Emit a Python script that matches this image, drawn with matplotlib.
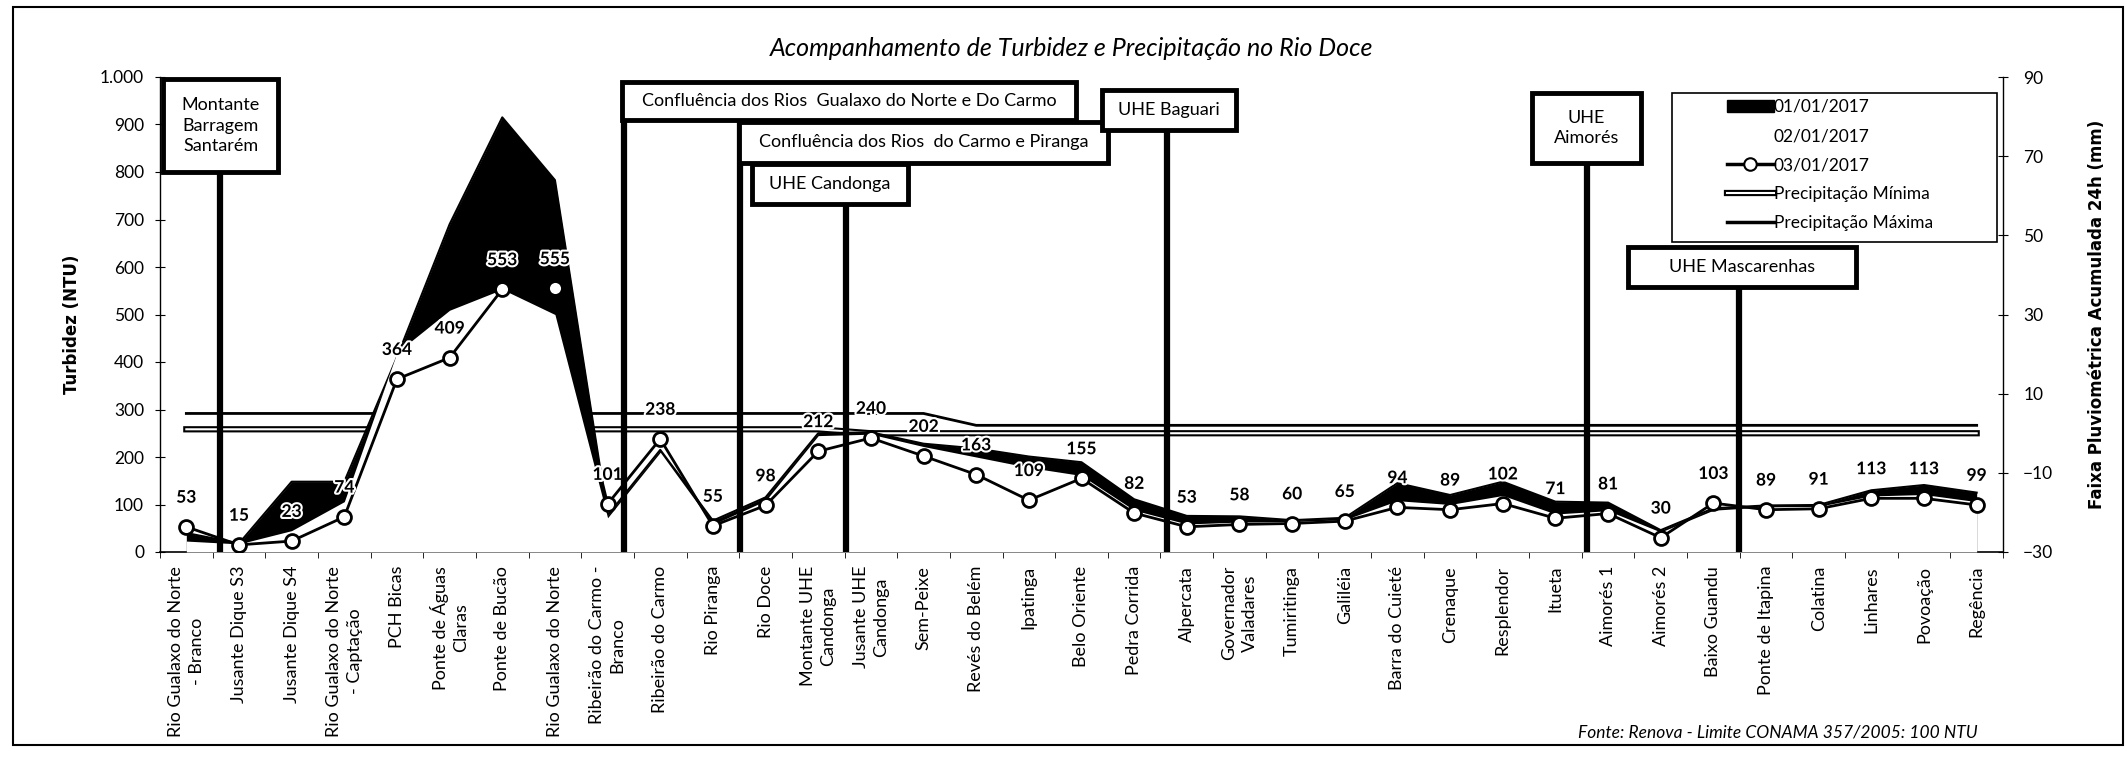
import matplotlib
matplotlib.use("Agg")
import matplotlib.pyplot as plt
import matplotlib.patheffects as pe
from matplotlib.patches import Rectangle, Patch
from matplotlib.lines import Line2D
from matplotlib.ticker import FuncFormatter
from matplotlib import transforms
import numpy as np

# pontos de monitoramento (ordem de montante para jusante)
locais = [
    "Rio Gualaxo do Norte\n- Branco", "Jusante Dique S3", "Jusante Dique S4",
    "Rio Gualaxo do Norte\n- Captação", "PCH Bicas", "Ponte de Águas\nClaras",
    "Ponte de Bucão", "Rio Gualaxo do Norte", "Ribeirão do Carmo -\nBranco",
    "Ribeirão do Carmo", "Rio Piranga", "Rio Doce", "Montante UHE\nCandonga",
    "Jusante UHE\nCandonga", "Sem-Peixe", "Revés do Belém", "Ipatinga",
    "Belo Oriente", "Pedra Corrida", "Alpercata", "Governador\nValadares",
    "Tumiritinga", "Galiléia", "Barra do Cuieté", "Crenaque", "Resplendor",
    "Itueta", "Aimorés 1", "Aimorés 2", "Baixo Guandu", "Ponte de Itapina",
    "Colatina", "Linhares", "Povoação", "Regência",
]

# turbidez (NTU)
turb_0101 = [40, 18, 148, 148, 410, 690, 915, 783, 77, 215, 66, 115, 250, 252, 228,
             218, 201, 189, 111, 76, 75, 67, 72, 145, 120, 148, 106, 104, 46, 92,
             98, 99, 130, 141, 125]
turb_0201 = [23, 17, 45, 106, 420, 509, 553, 500, 72, 210, 58, 108, 245, 248, 222,
             200, 178, 161, 88, 59, 63, 64, 68, 108, 100, 119, 80, 87, 42, 88,
             95, 96, 118, 121, 106]
turb_0301 = [53, 15, 23, 74, 364, 409, 553, 555, 101, 238, 55, 98, 212, 240, 202,
             163, 109, 155, 82, 53, 58, 60, 65, 94, 89, 102, 71, 81, 30, 103,
             89, 91, 113, 113, 99]

# faixa pluviometrica acumulada 24h (mm)
prec_min = [1, 1, 1, 1, 1, 1, 1, 1, 1, 1, 1, 1, 1, 0, 0, 0, 0, 0, 0, 0, 0, 0, 0,
            0, 0, 0, 0, 0, 0, 0, 0, 0, 0, 0, 0]
prec_max = [5, 5, 5, 5, 5, 5, 5, 5, 5, 5, 5, 5, 5, 5, 5, 2, 2, 2, 2, 2, 2, 2, 2,
            2, 2, 2, 2, 2, 2, 2, 2, 2, 2, 2, 2]

# marcos ao longo do rio (posicao em unidades de categoria)
marcos = ["Montante\nBarragem\nSantarém",
          "Confluência dos Rios  Gualaxo do Norte e Do Carmo",
          "Confluência dos Rios  do Carmo e Piranga",
          "UHE Candonga", "UHE Baguari", "UHE\nAimorés", "UHE Mascarenhas"]
marcos_pos = [0.64, 8.31, 10.51, 12.53, 18.62, 26.6, 29.48]
# caixas (esq, topo, dir, base) em pixels da figura
marcos_caixa = [(163, 79, 278, 172), (622, 82, 1076, 120), (739, 122, 1108, 163),
                (752, 164, 908, 204), (1102, 90, 1236, 130), (1532, 93, 1641, 163),
                (1628, 247, 1856, 287)]

W, H = 2127, 757
plt.rcParams['font.family'] = ['Lato', 'DejaVu Sans']


def fx(px):
    return px / W


def fy(py):
    return 1 - py / H


fig = plt.figure(figsize=(W / 100, H / 100), dpi=100)
ax = fig.add_axes([fx(160), fy(552), fx(2003) - fx(160), fy(77) - fy(552)])
ax2 = ax.twinx()
ax.set_zorder(ax2.get_zorder() + 1)
ax.patch.set_visible(False)

x = np.arange(len(locais))

# precipitacao no eixo secundario (fica por baixo das areas)
hollow = [pe.Stroke(linewidth=4.5, foreground='black'), pe.Normal()]
ax2.plot(x, prec_max, color='black', lw=2)
ax2.plot(x, prec_min, color='white', lw=1.5, path_effects=hollow)
ax2.set_ylim(-30, 90)
ax2.set_yticks(np.arange(-30, 91, 20))

# areas 01/01 (preta) e 02/01 (branca), linha 03/01
ax.fill_between(x, turb_0101, color='black', lw=0, zorder=2)
ax.plot(x, turb_0101, color='black', lw=1.5, zorder=2)
ax.fill_between(x, turb_0201, color='white', lw=0, zorder=3)
ax.plot(x, turb_0301, color='black', lw=2, marker='o', ms=10, mfc='white',
        mec='black', mew=2, zorder=5)

for xi, v in zip(x, turb_0301):
    ax.annotate(str(v), (xi, v), xytext=(0, 21), textcoords='offset points',
                ha='center', va='center', fontsize=12.5, fontweight='bold', zorder=6,
                path_effects=[pe.withStroke(linewidth=3, foreground='white')])

ax.set_xlim(-0.5, len(locais) - 0.5)
ax.set_ylim(0, 1000)
ax.set_yticks(np.arange(0, 1001, 100))
ax.yaxis.set_major_formatter(FuncFormatter(lambda v, p: f"{int(v):,}".replace(",", ".")))
ax.set_xticks(x)
ax.set_xticklabels(locais, rotation=90, ha='center', va='top', linespacing=1.35,
                   multialignment='center')
ax.set_xticks(np.arange(-0.5, len(locais), 1), minor=True)
ax.tick_params(axis='x', which='major', length=0, pad=10, labelsize=13)
ax.tick_params(axis='x', which='minor', length=4, direction='out')
ax.tick_params(axis='y', direction='inout', length=7, pad=8, labelsize=12.5)
ax2.tick_params(axis='y', direction='inout', length=7, pad=11, labelsize=12.5)

for s in ['top', 'right']:
    ax.spines[s].set_visible(False)
for s in ['top', 'left', 'bottom']:
    ax2.spines[s].set_visible(False)
ax.spines['left'].set_linewidth(1)
ax.spines['bottom'].set_linewidth(1.2)
ax2.spines['right'].set_linewidth(1)

ax.set_ylabel("Turbidez (NTU)", fontfamily='DejaVu Sans', fontweight='bold', fontsize=12)
ax.yaxis.set_label_coords(-0.043, 0.48)
ax2.set_ylabel("Faixa Pluviométrica Acumulada 24h (mm)", fontfamily='DejaVu Sans',
               fontweight='bold', fontsize=12, rotation=90)
ax2.yaxis.set_label_coords(1.046, 0.5)

# linhas e caixas dos marcos
trans = transforms.blended_transform_factory(ax.transData, fig.transFigure)
for nome, pos, (l, t, r, b) in zip(marcos, marcos_pos, marcos_caixa):
    ax.plot([pos, pos], [fy(t), fy(552)], transform=trans, color='black', lw=4.5,
            solid_capstyle='butt', zorder=8, clip_on=False)
    fig.add_artist(Rectangle((fx(l), fy(b)), fx(r) - fx(l), fy(t) - fy(b),
                             facecolor='white', edgecolor='black', lw=3.5,
                             transform=fig.transFigure, zorder=10))
    fig.text(fx((l + r) / 2), fy((t + b) / 2), nome, ha='center', va='center',
             fontsize=13, linespacing=1.35, zorder=11)

# legenda
fig.add_artist(Rectangle((fx(1672), fy(242)), fx(1997) - fx(1672), fy(93) - fy(242),
                         facecolor='white', edgecolor='black', lw=1.2,
                         transform=fig.transFigure, zorder=10))
handles = [Patch(facecolor='black', edgecolor='black'),
           Patch(facecolor='white', edgecolor='none'),
           Line2D([], [], color='black', lw=2.5, marker='o', ms=9, mfc='white',
                  mec='black', mew=1.5),
           Line2D([], [], color='white', lw=1.5, path_effects=hollow),
           Line2D([], [], color='black', lw=2.5)]
labels = ["01/01/2017", "02/01/2017", "03/01/2017", "Precipitação Mínima",
          "Precipitação Máxima"]
leg = fig.legend(handles, labels, loc='upper left', bbox_to_anchor=(fx(1727), fy(99)),
                 bbox_transform=fig.transFigure, frameon=False, fontsize=12.5,
                 handlelength=2.7, handletextpad=0.0, labelspacing=0.75,
                 borderpad=0, borderaxespad=0)
leg.set_zorder(12)

# titulo, fonte e moldura
fig.text(fx(1072), fy(48), "Acompanhamento de Turbidez e Precipitação no Rio Doce",
         ha='center', va='center', fontsize=18, style='italic')
fig.text(fx(1978), fy(733), "Fonte: Renova - Limite CONAMA 357/2005: 100 NTU",
         ha='right', va='center', fontsize=12.5, style='italic')
fig.add_artist(Rectangle((fx(13), fy(745)), fx(2123) - fx(13), fy(7) - fy(745),
                         fill=False, edgecolor='black', lw=1.5,
                         transform=fig.transFigure, zorder=9))

fig.savefig("out.png", dpi=100)
